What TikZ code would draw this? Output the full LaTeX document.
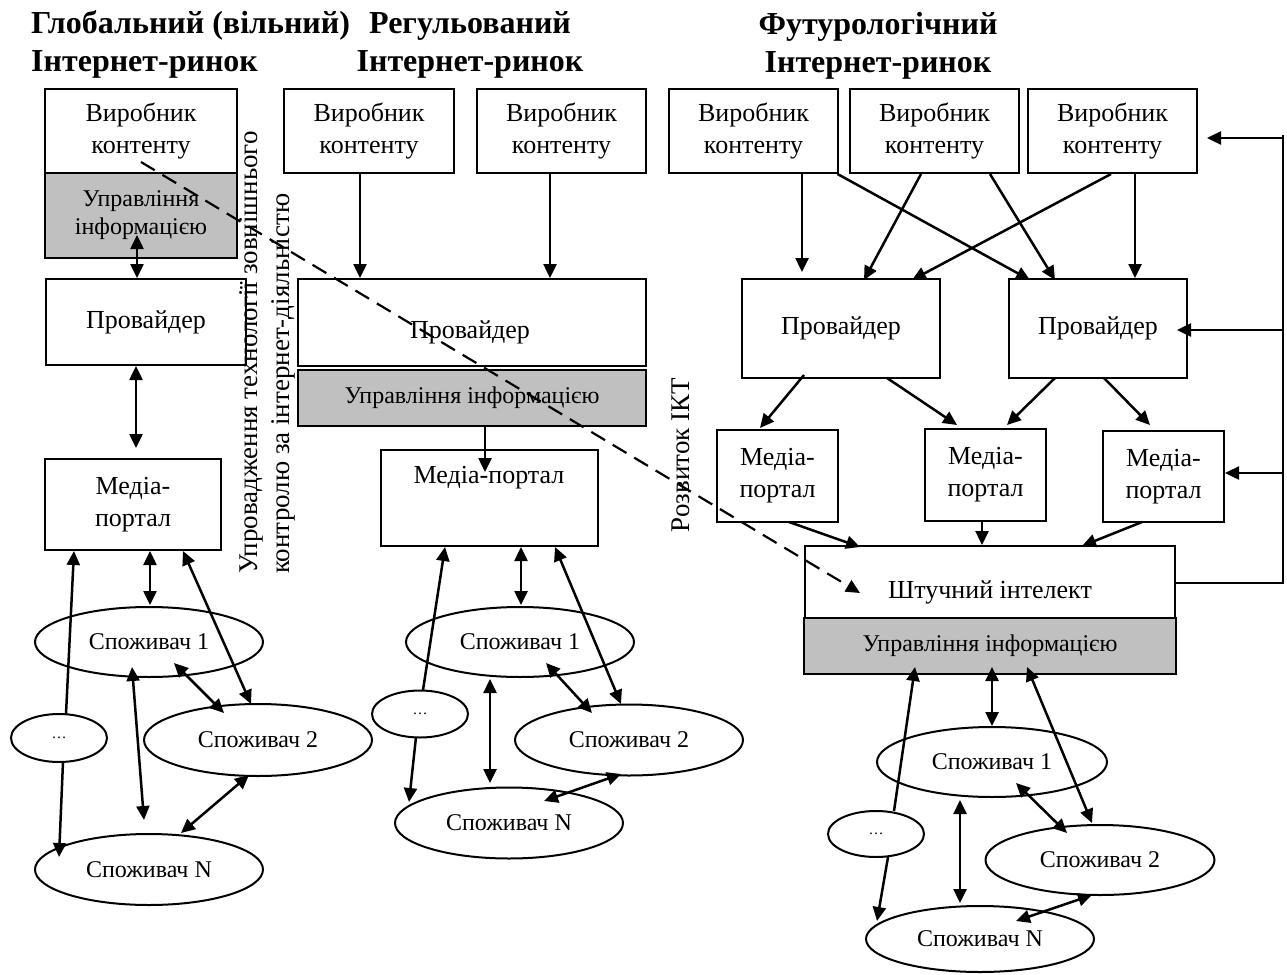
\documentclass[tikz,border=0pt]{standalone}
\usepackage{fontspec}
\setmainfont{Liberation Serif}
\usetikzlibrary{arrows.meta,shapes.geometric}
\definecolor{boxgray}{HTML}{C0C0C0}
\begin{document}
\begin{tikzpicture}[x=1pt,y=-1pt,
  box/.style={draw, line width=2pt, inner sep=0pt, align=center, font=\fontsize{26}{32}\selectfont},
  gbox/.style={box, fill=boxgray, font=\fontsize{24}{28}\selectfont},
  txt/.style={inner sep=0pt, align=center, font=\fontsize{26}{32}\selectfont},
  cons/.style={ellipse, draw, line width=2pt, inner sep=0pt, font=\fontsize{24}{28}\selectfont},
  dots/.style={cons, font=\fontsize{15}{18}\selectfont},
  ttl/.style={inner sep=0pt, font=\fontsize{32}{38}\selectfont\bfseries},
  rot/.style={rotate=90, inner sep=0pt, font=\fontsize{27}{32}\selectfont},
  arr/.style={line width=2.5pt, -{Triangle[length=14pt,width=13pt]}},
  darr/.style={line width=2.5pt, {Triangle[length=14pt,width=13pt]}-{Triangle[length=14pt,width=13pt]}},
  dsh/.style={line width=2.2pt, dash pattern=on 16pt off 9pt, -{Triangle[length=14pt,width=13pt]}},
  ln/.style={line width=2.5pt}
]
\useasboundingbox (0,0) rectangle (1287,974);

% titles
\node[ttl, anchor=base west, align=left] (t1) at (31,71) {Глобальний (вільний)\\Інтернет-ринок};
\node[ttl, anchor=base, align=center] (t2) at (470,71) {Регульований\\Інтернет-ринок};
\node[ttl, anchor=base, align=center] (t3) at (878,72) {Футурологічний\\Інтернет-ринок};

% left column
\node[box, minimum width=192pt, minimum height=84pt] (lp1) at (141,131) {Виробник\\контенту};
\node[gbox, minimum width=192pt, minimum height=85pt] (lg1) at (141,215.5) {Управління\\інформацією};
\node[box, minimum width=200pt, minimum height=86pt] (lprov) at (146,322) {Провайдер};
\node[box, minimum width=176pt, minimum height=91pt] (lmed) at (133,504.5) {Медіа-\\портал};
\node[cons, minimum width=228pt, minimum height=70pt] (lc1) at (149,642) {Споживач 1};
\node[cons, minimum width=228pt, minimum height=72pt] (lc2) at (258,740) {Споживач 2};
\node[dots, minimum width=96pt, minimum height=48pt] (ld) at (59,738) {…};
\node[cons, minimum width=228pt, minimum height=71pt] (lN) at (149,869.5) {Споживач N};

% middle column
\node[box, minimum width=170pt, minimum height=84pt] (mp1) at (369,131) {Виробник\\контенту};
\node[box, minimum width=169pt, minimum height=84pt] (mp2) at (561.5,131) {Виробник\\контенту};
\node[box, minimum width=348pt, minimum height=87pt] (mprov) at (472,322.5) {};
\node[txt] (mprovt) at (470,332) {Провайдер};
\node[gbox, minimum width=348pt, minimum height=56pt] (mg) at (472,398) {Управління інформацією};
\node[box, minimum width=217pt, minimum height=96pt] (mmed) at (489.5,498) {};
\node[txt] (mmedt) at (489,478) {Медіа-портал};
\node[cons, minimum width=228pt, minimum height=70pt] (mc1) at (520,642) {Споживач 1};
\node[dots, minimum width=96pt, minimum height=47pt] (md) at (420,714) {…};
\node[cons, minimum width=228pt, minimum height=71pt] (mc2) at (629,740) {Споживач 2};
\node[cons, minimum width=228pt, minimum height=71pt] (mN) at (509,823) {Споживач N};

% right column
\node[box, minimum width=169pt, minimum height=84pt] (rp1) at (753.5,131) {Виробник\\контенту};
\node[box, minimum width=169pt, minimum height=84pt] (rp2) at (934.5,131) {Виробник\\контенту};
\node[box, minimum width=169pt, minimum height=84pt] (rp3) at (1112.5,131) {Виробник\\контенту};
\node[box, minimum width=198pt, minimum height=99pt] (rprov1) at (841,328.5) {Провайдер};
\node[box, minimum width=178pt, minimum height=99pt] (rprov2) at (1098,328.5) {Провайдер};
\node[box, minimum width=121pt, minimum height=92pt] (rm1) at (777.5,476) {Медіа-\\портал};
\node[box, minimum width=121pt, minimum height=92pt] (rm2) at (985.5,475) {Медіа-\\портал};
\node[box, minimum width=121pt, minimum height=91pt] (rm3) at (1163.5,476.5) {Медіа-\\портал};
\node[box, minimum width=370pt, minimum height=72pt] (rai) at (990,582) {};
\node[txt] (rait) at (990,592) {Штучний інтелект};
\node[gbox, minimum width=372pt, minimum height=56pt] (rg) at (990,646) {Управління інформацією};
\node[cons, minimum width=230pt, minimum height=70pt] (rc1) at (992,762) {Споживач 1};
\node[dots, minimum width=96pt, minimum height=46pt] (rd) at (876,834) {…};
\node[cons, minimum width=229pt, minimum height=70pt] (rc2) at (1100,860) {Споживач 2};
\node[cons, minimum width=228pt, minimum height=66pt] (rN) at (980,939) {Споживач N};

% rotated labels
\node[rot, anchor=west, align=left] (ctl) at (267,574) {Упровадження технології зовнішнього\\контролю за інтернет-діяльністю};
\node[rot] (ikt) at (681,455) {Розвиток ІКТ};

% left arrows
\draw[darr] ([shift={(-4,19.5)}]lg1.center) -- ([xshift=-9pt]lprov.north);
\draw[darr] ([xshift=-10pt]lprov.south) -- ([shift={(3,-56.5)}]lmed.center);
\draw[arr] ([shift={(7,-24)}]ld.center) -- ([xshift=-59pt]lmed.south);
\draw[darr] ([xshift=17pt]lmed.south) -- ([shift={(1,-37)}]lc1.center);
\draw[darr] ([xshift=50pt]lmed.south) -- ([shift={(-7,-36)}]lc2.center);
\draw[darr] ([shift={(25,21)}]lc1.center) -- ([shift={(-34,-27)}]lc2.center);
\draw[darr] ([shift={(-17,25)}]lc1.center) -- ([shift={(-5,-49.5)}]lN.center);
\draw[darr] ([shift={(-9,35)}]lc2.center) -- ([shift={(32,-36.5)}]lN.center);
\draw[arr] ([shift={(4,24)}]ld.center) -- ([shift={(-90,-12.5)}]lN.center);

% middle arrows
\draw[arr] ([xshift=-9pt]mp1.south) -- ([xshift=-112pt]mprov.north);
\draw[arr] ([xshift=-11.5pt]mp2.south) -- ([xshift=78pt]mprov.north);
\draw[arr] ([xshift=13pt]mg.south) -- ([shift={(-4.5,-26)}]mmed.center);
\draw[arr] ([shift={(3,-24)}]md.center) -- ([xshift=-44.5pt]mmed.south);
\draw[darr] ([xshift=31.5pt]mmed.south) -- ([shift={(1,-37)}]mc1.center);
\draw[darr] ([xshift=65.5pt]mmed.south) -- ([shift={(-8,-36)}]mc2.center);
\draw[darr] ([shift={(26,21)}]mc1.center) -- ([shift={(-37,-27)}]mc2.center);
\draw[darr] ([shift={(-30,37)}]mc1.center) -- ([shift={(-19,-40)}]mN.center);
\draw[darr] ([shift={(-8,34)}]mc2.center) -- ([shift={(35,-22)}]mN.center);
\draw[arr] ([shift={(-4,23)}]md.center) -- ([shift={(-100,-21)}]mN.center);

% right: producers to providers
\draw[arr] ([xshift=48.5pt]rp1.south) -- ([shift={(-39,-56.5)}]rprov1.center);
\draw[arr] ([xshift=84pt]rp1.south) -- ([shift={(-68,-48.5)}]rprov2.center);
\draw[arr] ([xshift=-13.5pt]rp2.south) -- ([shift={(23,-48.5)}]rprov1.center);
\draw[arr] ([xshift=55.5pt]rp2.south) -- ([shift={(-43,-48.5)}]rprov2.center);
\draw[arr] ([xshift=-1.5pt]rp3.south) -- ([shift={(71,-48.5)}]rprov1.center);
\draw[arr] ([xshift=22.5pt]rp3.south) -- ([shift={(37,-50.5)}]rprov2.center);

% providers to media portals
\draw[arr] ([shift={(-37,46.5)}]rprov1.center) -- ([shift={(-17.5,-48)}]rm1.center);
\draw[arr] ([shift={(46,49.5)}]rprov1.center) -- ([shift={(-28.5,-50)}]rm2.center);
\draw[arr] ([shift={(-43,49.5)}]rprov2.center) -- ([shift={(21.5,-50)}]rm2.center);
\draw[arr] ([shift={(6,49.5)}]rprov2.center) -- ([shift={(-13.5,-51.5)}]rm3.center);

% media portals to AI
\draw[arr] ([shift={(11.5,46)}]rm1.center) -- ([shift={(-130,-35)}]rai.center);
\draw[arr] ([shift={(-3.5,46)}]rm2.center) -- ([shift={(-8,-37)}]rai.center);
\draw[arr] ([shift={(-21.5,45.5)}]rm3.center) -- ([shift={(92,-36)}]rai.center);

% feedback loop
\coordinate (fbb) at (1283,583);
\coordinate (fbt) at (1283,135);
\coordinate (tg1) at ([shift={(94.5,7)}]rp3.center);
\coordinate (tg2) at ([shift={(79,1.5)}]rprov2.center);
\coordinate (tg3) at ([shift={(61.5,-3.5)}]rm3.center);
\draw[ln] (rai.east |- fbb) -- (fbb) -- (fbt);
\draw[arr] (fbt |- tg1) -- (tg1);
\draw[arr] (fbt |- tg2) -- (tg2);
\draw[arr] (fbt |- tg3) -- (tg3);

% right consumers
\draw[arr] ([shift={(18,-23)}]rd.center) -- ([shift={(-75,21)}]rg.center);
\draw[darr] ([shift={(2,21)}]rg.center) -- ([shift={(0,-36)}]rc1.center);
\draw[darr] ([shift={(37,21)}]rg.center) -- ([shift={(-8,-37)}]rc2.center);
\draw[darr] ([shift={(24,21)}]rc1.center) -- ([shift={(-33,-27)}]rc2.center);
\draw[darr] ([shift={(-32,38)}]rc1.center) -- ([shift={(-20,-36)}]rN.center);
\draw[darr] ([shift={(-8,35)}]rc2.center) -- ([shift={(36,-18)}]rN.center);
\draw[arr] ([shift={(12,23)}]rd.center) -- ([shift={(-103,-18)}]rN.center);

% dashed arrow
\draw[dsh] ([shift={(0,31)}]lp1.center) -- ([shift={(-130,11)}]rai.center);
\end{tikzpicture}
\end{document}
